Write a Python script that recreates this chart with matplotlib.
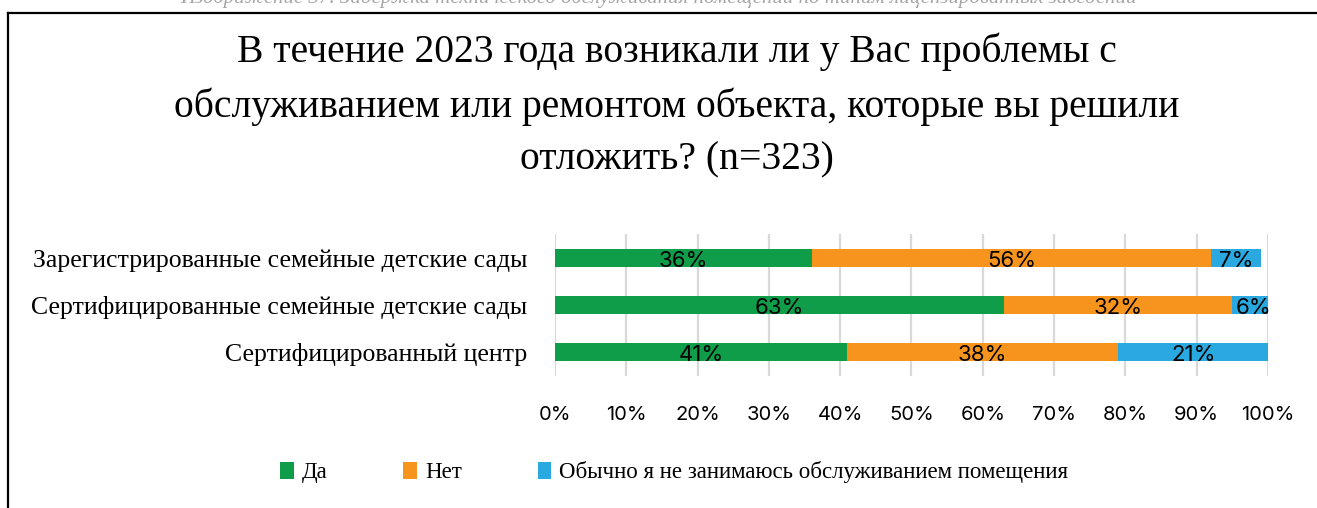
import matplotlib
matplotlib.use("Agg")
import matplotlib.pyplot as plt
from matplotlib.lines import Line2D
import numpy as np

categories = ["Зарегистрированные семейные детские сады",
              "Сертифицированные семейные детские сады",
              "Сертифицированный центр"]
series_names = ["Да", "Нет", "Обычно я не занимаюсь обслуживанием помещения"]
da = [36, 63, 41]
net = [56, 32, 38]
obychno = [7, 6, 21]
colors = ["#109D4A", "#F7941D", "#29A9E0"]
xticks = [0, 10, 20, 30, 40, 50, 60, 70, 80, 90, 100]

title = ("В течение 2023 года возникали ли у Вас проблемы с\n"
         "обслуживанием или ремонтом объекта, которые вы решили\n"
         "отложить? (n=323)")
caption = "Изображение 37. Задержка технического обслуживания помещений по типам лицензированных заведений"

serif = ["Liberation Serif", "DejaVu Serif"]
sans = ["Inter", "DejaVu Sans"]

fig = plt.figure(figsize=(13.17, 5.08), dpi=100)
ax = fig.add_axes([0.4214, 0.2608, 0.5414, 0.2776])

y = np.arange(len(categories))
left = np.zeros(len(categories))
for name, vals, c in zip(series_names, [da, net, obychno], colors):
    ax.barh(y, vals, left=left, height=0.39, color=c, label=name, zorder=3)
    for yi, l, v in zip(y, left, vals):
        ax.text(l + v / 2, yi + 0.06, f"{v}%", ha="center", va="center",
                fontsize=16, family=sans, color="black", zorder=4)
    left = left + np.array(vals)

ax.set_xlim(0, 100)
ax.set_ylim(2.5, -0.5)
ax.set_xticks(xticks)
ax.set_xticklabels([f"{t}%" for t in xticks], family=sans, fontsize=14.5)
ax.set_yticks(y)
ax.set_yticklabels(categories, family=serif, fontsize=18.5)
ax.tick_params(axis="x", length=0, pad=22)
ax.tick_params(axis="y", length=0, pad=20)
ax.grid(axis="x", color="#d9d9d9", linewidth=1.6, zorder=0)
for s in ax.spines.values():
    s.set_visible(False)

fig.text(0.514, 0.793, title, ha="center", va="center", fontsize=28.5,
         family=serif, linespacing=1.55)

fig.legend(loc="center", bbox_to_anchor=(0.512, 0.07), ncol=3,
           frameon=False, prop={"family": serif, "size": 16.5},
           handlelength=0.6, handleheight=0.8, handletextpad=0.35,
           columnspacing=3.3)

fig.text(0.5, 1 - 3 / 508, caption, ha="center", va="baseline", fontsize=15,
         family=serif, style="italic", color="#a6a6a6")

fig.add_artist(Line2D([8 / 1317, 8 / 1317], [0, 1 - 13 / 508], color="black",
                      linewidth=1.6, transform=fig.transFigure))
fig.add_artist(Line2D([8 / 1317, 1], [1 - 13 / 508, 1 - 13 / 508], color="black",
                      linewidth=1.6, transform=fig.transFigure))

fig.savefig("out.png", dpi=100)
